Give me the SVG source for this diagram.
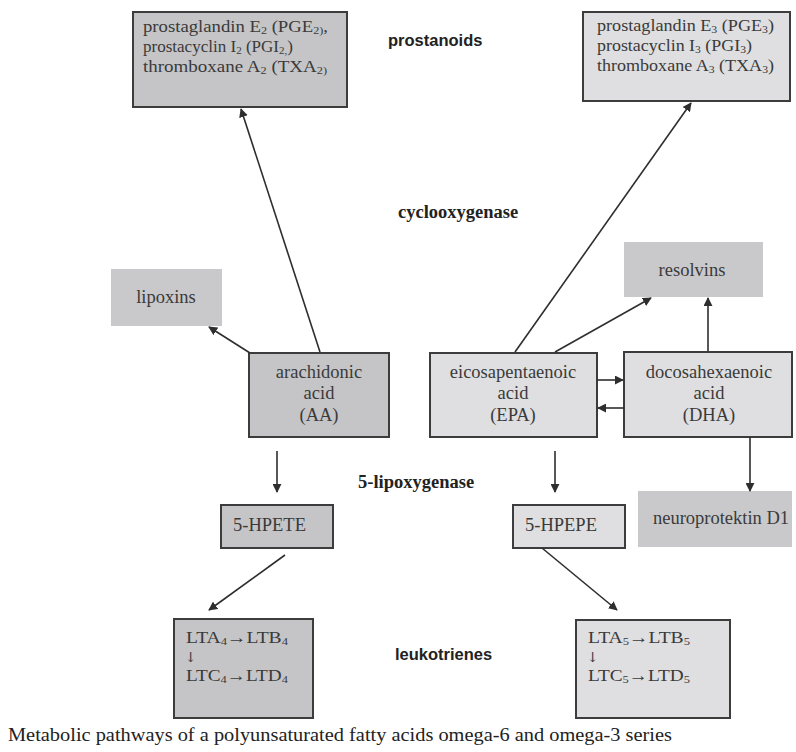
<svg xmlns="http://www.w3.org/2000/svg" width="796" height="752" viewBox="0 0 796 752">
  <style>
    .dark { fill: #c5c5c7; stroke: #3c3c3c; stroke-width: 2; }
    .light { fill: #dfdfe1; stroke: #3c3c3c; stroke-width: 2; }
    .plain { fill: #c9c9cb; stroke: none; }
    .t { font-family: "Liberation Serif", "Times New Roman", serif; font-size: 18.5px; fill: #3a3a3a; }
    .s { font-size: 17px; }
    .c { text-anchor: middle; }
    .sub { font-size: 11px; }
    .dn { font-family: "DejaVu Serif", serif; font-size: 14px; fill: #3a3a3a; }
    .lbl { font-family: "Liberation Serif", "Times New Roman", serif; font-size: 18.5px; font-weight: bold; fill: #222; }
    .slbl { font-family: "Liberation Sans", Arial, sans-serif; font-size: 16.5px; font-weight: bold; fill: #222; }
    .edge { stroke: #2e2e2e; stroke-width: 1.6; fill: none; marker-end: url(#arr); }
    .cap { font-family: "Liberation Serif", "Times New Roman", serif; font-size: 19px; fill: #222; }
  </style>
  <defs>
    <marker id="arr" viewBox="0 0 10 10" refX="9" refY="5" markerWidth="9" markerHeight="9" markerUnits="userSpaceOnUse" orient="auto">
      <path d="M0,0 L10,5 L0,10 z" fill="#2e2e2e"/>
    </marker>
  </defs>
  <rect width="796" height="752" fill="#ffffff"/>

  <!-- omega-6 prostanoids -->
  <g id="prostanoids6">
    <rect class="dark" x="133" y="12" width="214" height="95"/>
    <text class="t s" x="143" y="32" textLength="185" lengthAdjust="spacingAndGlyphs">prostaglandin E<tspan class="sub" dy="2">2</tspan><tspan dy="-2"> (PGE</tspan><tspan class="sub" dy="2">2)</tspan><tspan dy="-2">,</tspan></text>
    <text class="t s" x="143" y="52" textLength="150" lengthAdjust="spacingAndGlyphs">prostacyclin I<tspan class="sub" dy="2">2</tspan><tspan dy="-2"> (PGI</tspan><tspan class="sub" dy="2">2,</tspan><tspan dy="-2">)</tspan></text>
    <text class="t s" x="143" y="72" textLength="184" lengthAdjust="spacingAndGlyphs">thromboxane A<tspan class="sub" dy="2">2</tspan><tspan dy="-2"> (TXA</tspan><tspan class="sub" dy="2">2)</tspan></text>
  </g>

  <!-- omega-3 prostanoids -->
  <g id="prostanoids3">
    <rect class="light" x="583" y="12" width="207" height="89"/>
    <text class="t s" x="597" y="31" textLength="177" lengthAdjust="spacingAndGlyphs">prostaglandin E<tspan class="sub" dy="2">3</tspan><tspan dy="-2"> (PGE</tspan><tspan class="sub" dy="2">3</tspan><tspan dy="-2">)</tspan></text>
    <text class="t s" x="597" y="51" textLength="155" lengthAdjust="spacingAndGlyphs">prostacyclin I<tspan class="sub" dy="2">3</tspan><tspan dy="-2"> (PGI</tspan><tspan class="sub" dy="2">3</tspan><tspan dy="-2">)</tspan></text>
    <text class="t s" x="597" y="71" textLength="177" lengthAdjust="spacingAndGlyphs">thromboxane A<tspan class="sub" dy="2">3</tspan><tspan dy="-2"> (TXA</tspan><tspan class="sub" dy="2">3</tspan><tspan dy="-2">)</tspan></text>
  </g>

  <!-- enzyme / class labels -->
  <g id="labels">
    <text class="slbl" x="388" y="46">prostanoids</text>
    <text class="lbl" x="398" y="218">cyclooxygenase</text>
    <text class="lbl" x="358" y="488">5-lipoxygenase</text>
    <text class="slbl" x="395" y="660">leukotrienes</text>
  </g>

  <g id="lipoxins">
    <rect class="plain" x="111" y="269" width="111" height="57"/>
    <text class="t c" x="166" y="303">lipoxins</text>
  </g>

  <g id="resolvins">
    <rect class="plain" x="624" y="242" width="139" height="55"/>
    <text class="t c" x="692" y="276">resolvins</text>
  </g>

  <g id="AA">
    <rect class="dark" x="249" y="353" width="140" height="84"/>
    <text class="t c" x="319" y="378">arachidonic</text>
    <text class="t c" x="319" y="399">acid</text>
    <text class="t c" x="319" y="421">(AA)</text>
  </g>

  <g id="EPA">
    <rect class="light" x="430" y="353" width="167" height="84"/>
    <text class="t c" x="513" y="378">eicosapentaenoic</text>
    <text class="t c" x="513" y="399">acid</text>
    <text class="t c" x="513" y="421">(EPA)</text>
  </g>

  <g id="DHA">
    <rect class="light" x="624" y="352" width="168" height="85"/>
    <text class="t c" x="709" y="378">docosahexaenoic</text>
    <text class="t c" x="709" y="399">acid</text>
    <text class="t c" x="709" y="421">(DHA)</text>
  </g>

  <g id="HPETE">
    <rect class="dark" x="221" y="505" width="112" height="43"/>
    <text class="t" x="233" y="531">5-HPETE</text>
  </g>

  <g id="HPEPE">
    <rect class="light" x="513" y="505" width="112" height="43"/>
    <text class="t" x="525" y="531">5-HPEPE</text>
  </g>

  <g id="NPD1">
    <rect class="plain" x="638" y="491" width="154" height="56"/>
    <text class="t c" x="721" y="524">neuroprotektin D1</text>
  </g>

  <g id="LT4">
    <rect class="dark" x="174" y="619" width="139" height="99"/>
    <text class="t s" x="186" y="643" textLength="102" lengthAdjust="spacingAndGlyphs">LTA<tspan class="sub" dy="2">4</tspan><tspan dy="-2">→LTB</tspan><tspan class="sub" dy="2">4</tspan></text>
    <text class="dn" x="185" y="662">↓</text>
    <text class="t s" x="186" y="681" textLength="102" lengthAdjust="spacingAndGlyphs">LTC<tspan class="sub" dy="2">4</tspan><tspan dy="-2">→LTD</tspan><tspan class="sub" dy="2">4</tspan></text>
  </g>

  <g id="LT5">
    <rect class="light" x="576" y="620" width="154" height="98"/>
    <text class="t s" x="588" y="643" textLength="102" lengthAdjust="spacingAndGlyphs">LTA<tspan class="sub" dy="2">5</tspan><tspan dy="-2">→LTB</tspan><tspan class="sub" dy="2">5</tspan></text>
    <text class="dn" x="587" y="662">↓</text>
    <text class="t s" x="588" y="681" textLength="102" lengthAdjust="spacingAndGlyphs">LTC<tspan class="sub" dy="2">5</tspan><tspan dy="-2">→LTD</tspan><tspan class="sub" dy="2">5</tspan></text>
  </g>

  <!-- connectors -->
  <g id="edges">
    <line class="edge" x1="320" y1="352" x2="241" y2="109"/>
    <line class="edge" x1="250" y1="353" x2="209" y2="327"/>
    <line class="edge" x1="515" y1="352" x2="691" y2="103"/>
    <line class="edge" x1="555" y1="352" x2="651" y2="298"/>
    <line class="edge" x1="708" y1="351" x2="708" y2="298"/>
    <line class="edge" x1="597" y1="380" x2="623" y2="380"/>
    <line class="edge" x1="624" y1="408" x2="598" y2="408"/>
    <line class="edge" x1="277" y1="451" x2="277" y2="492"/>
    <line class="edge" x1="555" y1="451" x2="555" y2="492"/>
    <line class="edge" x1="750" y1="437" x2="750" y2="491"/>
    <line class="edge" x1="285" y1="555" x2="209" y2="610"/>
    <line class="edge" x1="542" y1="548" x2="617" y2="610"/>
  </g>

  <text class="cap" x="8" y="741" textLength="664" lengthAdjust="spacingAndGlyphs">Metabolic pathways of a polyunsaturated fatty acids omega-6 and omega-3 series</text>
</svg>
